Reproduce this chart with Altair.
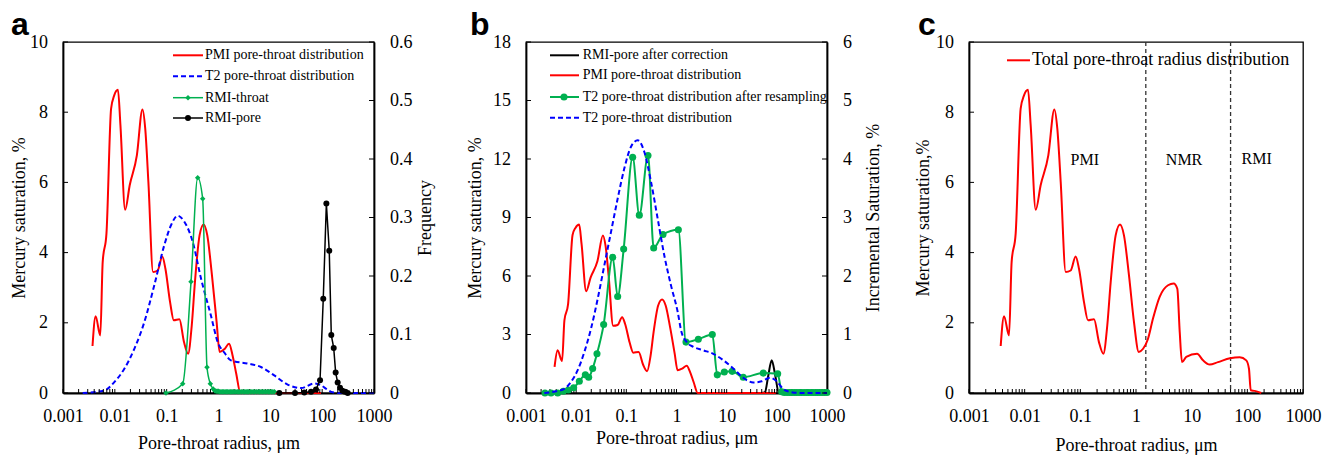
import altair as alt
import pandas as pd

# ---------------- data ----------------
# PMI pore-throat distribution (Mercury saturation, %)
pmi_r = [0.00371, 0.00426, 0.00524, 0.00583, 0.00689, 0.00847, 0.00973, 0.01148, 0.01282, 0.0158,
         0.01936, 0.0266, 0.0341, 0.0386, 0.0444, 0.0546, 0.067, 0.0824, 0.0946, 0.1164,
         0.1374, 0.176, 0.216, 0.259, 0.305, 0.351, 0.431, 0.516, 0.608, 0.748,
         0.92, 1.05, 1.3, 1.6, 1.85, 2.2, 2.65, 10.0, 95.0]
pmi_v = [1.34, 2.19, 1.64, 3.73, 4.54, 8.10, 8.48, 8.64, 7.63, 5.22,
         5.92, 6.77, 8.08, 7.53, 6.01, 3.45, 3.49, 3.89, 3.54, 2.59,
         2.07, 2.10, 1.45, 1.12, 1.93, 3.16, 4.49, 4.80, 4.49, 3.35,
         2.02, 1.17, 1.25, 1.40, 1.10, 0.55, 0.0, 0.0, 0.0]

# panel a: T2 pore-throat distribution (left units)
t2a_r = [0.0024, 0.00626, 0.00977, 0.01524, 0.02377, 0.03707, 0.0577, 0.0899, 0.1213, 0.1633,
         0.2193, 0.3177, 0.46, 0.716, 0.966, 1.3, 1.74, 3.66, 6.6, 11.9,
         21.6, 39.0, 70.6, 95.0, 125.0, 160.0, 250.0, 1000.0]
t2a_v = [0.0, 0.07, 0.31, 0.69, 1.26, 2.02, 3.07, 4.21, 4.78, 5.05,
         4.88, 4.31, 3.26, 2.20, 1.45, 1.15, 0.93, 0.84, 0.74, 0.50,
         0.24, 0.14, 0.27, 0.22, 0.10, 0.02, 0.0, 0.0]

# panel a: RMI-throat (Frequency)
rmi_throat_r = [0.097, 0.204, 0.295, 0.397, 0.495, 0.600, 0.695, 0.79,
                0.85, 0.9, 0.95, 1.0, 1.06, 1.12, 1.19, 1.26, 1.34, 1.42, 1.5,
                1.6, 1.7, 1.8, 1.9, 2.0, 2.15, 2.3, 2.45, 2.6, 2.8, 3.0,
                3.2, 3.4, 3.6, 3.8, 4.1, 4.4, 4.7, 5.0, 5.4, 5.8, 6.2, 6.6, 7.0,
                7.5, 8.0, 8.6, 9.2, 9.8, 10.5, 11.2, 12.0]
rmi_throat_f = [0.0, 0.016, 0.190, 0.368, 0.332, 0.044, 0.016, 0.007,
                0.004, 0.003, 0.003, 0.003, 0.002, 0.002, 0.002, 0.002, 0.002, 0.002, 0.002,
                0.002, 0.002, 0.002, 0.002, 0.002, 0.002, 0.002, 0.002, 0.002, 0.002, 0.002,
                0.002, 0.002, 0.002, 0.002, 0.002, 0.002, 0.002, 0.002, 0.002, 0.002, 0.002, 0.002, 0.002,
                0.002, 0.002, 0.002, 0.002, 0.002, 0.002, 0.002, 0.002]

# panel a: RMI-pore (Frequency)
rmi_pore_r = [14.9, 29.9, 45.3, 61.0, 76.0, 91.0, 105.0, 120.5, 137.0, 150.0,
              167.0, 182.0, 199.0, 221.0, 245.0, 276.0, 311.0]
rmi_pore_f = [0.0, 0.0, 0.001, 0.002, 0.006, 0.022, 0.161, 0.324, 0.243, 0.099,
              0.077, 0.035, 0.018, 0.009, 0.004, 0.002, 0.0]

# panel b: RMI-pore after correction (left units)
rmi_corr_r = [50.0, 58.0, 67.6, 79.0, 93.0, 108.0, 125.0]
rmi_corr_v = [0.0, 0.05, 0.9, 1.68, 0.9, 0.05, 0.0]

# panel b: T2 after resampling (Incremental Saturation, %)
t2res_r = [0.00239, 0.00315, 0.00428, 0.00554, 0.00698, 0.00891, 0.01156, 0.01523, 0.01775, 0.02133,
           0.0260, 0.0353, 0.0534, 0.0672, 0.0885, 0.1337, 0.1815, 0.2704, 0.3508, 0.538,
           1.089, 1.546, 2.72, 5.17, 6.5, 8.97, 12.9, 21.4, 53.7, 104.0,
           125.0, 140.0, 160.0, 180.0, 200.0, 225.0, 250.0, 280.0, 310.0, 350.0,
           390.0, 430.0, 480.0, 530.0, 590.0, 650.0, 720.0, 800.0, 890.0, 1000.0]
t2res_v = [0.0, 0.0, 0.0, 0.03, 0.05, 0.09, 0.20, 0.31, 0.27, 0.42,
           0.67, 1.17, 2.32, 1.65, 2.46, 4.03, 3.04, 4.06, 2.48, 2.71,
           2.79, 0.87, 0.92, 1.00, 0.31, 0.36, 0.37, 0.27, 0.34, 0.33,
           0.02, 0.01, 0.01, 0.01, 0.01, 0.01, 0.01, 0.01, 0.01, 0.01,
           0.01, 0.01, 0.01, 0.01, 0.01, 0.01, 0.01, 0.01, 0.01, 0.01]

# panel b: T2 pore-throat distribution (Incremental Saturation, %)
t2b_r = [0.00232, 0.00396, 0.00581, 0.00789, 0.01072, 0.01455, 0.01977, 0.02685, 0.0364, 0.0494,
         0.0671, 0.0912, 0.1239, 0.1683, 0.2286, 0.3105, 0.4217, 0.5715, 0.776, 1.054,
         1.25, 1.6, 2.163, 3.42, 5.41, 8.57, 13.55, 21.4, 33.96, 49.8,
         73.0, 99.3, 134.0, 183.0, 300.0, 1000.0]
t2b_v = [0.0, 0.03, 0.07, 0.19, 0.39, 0.70, 1.10, 1.61, 2.18, 2.75,
         3.32, 3.84, 4.21, 4.32, 4.12, 3.61, 2.98, 2.35, 1.84, 1.39,
         1.05, 0.87, 0.79, 0.73, 0.67, 0.56, 0.42, 0.26, 0.18, 0.20,
         0.26, 0.20, 0.07, 0.02, 0.0, 0.0]

# panel c: total pore-throat radius distribution
total_r = [0.00371, 0.00426, 0.00524, 0.00583, 0.00689, 0.00847, 0.00973, 0.01148, 0.01282, 0.0158,
           0.01936, 0.0266, 0.0341, 0.0386, 0.0444, 0.0546, 0.067, 0.0824, 0.0946, 0.1164,
           0.1374, 0.176, 0.216, 0.259, 0.305, 0.351, 0.431, 0.516, 0.608, 0.748,
           0.92, 1.12, 1.34, 1.64, 2.02, 2.66, 3.76, 4.75, 5.52, 6.10,
           6.70, 8.0, 12.5, 16.0, 21.1, 29.7, 48.9, 73.0, 95.7, 107.0,
           115.0, 135.0, 178.0]
total_v = [1.34, 2.19, 1.64, 3.73, 4.54, 8.10, 8.48, 8.64, 7.63, 5.22,
           5.92, 6.77, 8.08, 7.53, 6.01, 3.45, 3.49, 3.89, 3.54, 2.59,
           2.07, 2.10, 1.45, 1.12, 1.93, 3.16, 4.49, 4.80, 4.49, 3.35,
           2.02, 1.17, 1.26, 1.54, 2.12, 2.74, 3.07, 3.12, 2.97, 1.74,
           0.88, 1.03, 1.12, 0.93, 0.81, 0.88, 0.99, 1.02, 0.93, 0.69,
           0.08, 0.06, 0.0]
boundaries = [1.5, 50.0]
region_labels = ["PMI", "NMR", "RMI"]
region_x = [0.12, 7.3, 147.0]
region_y = [6.63, 6.63, 6.67]

# axis tick values
x_labels = [0.001, 0.01, 0.1, 1, 10, 100, 1000]
x_minor = [m * 10.0 ** k for k in range(-3, 3) for m in range(1, 10)] + [1000.0]
ya_left = [0, 2, 4, 6, 8, 10]
ya_right = [0, 0.1, 0.2, 0.3, 0.4, 0.5, 0.6]
yb_left = [0, 3, 6, 9, 12, 15, 18]
yb_right = [0, 1, 2, 3, 4, 5, 6]
yc_left = [0, 2, 4, 6, 8, 10]

# ---------------- style ----------------
FONT = "Liberation Serif"
RED = "#ff0000"
BLUE = "#0000ff"
GREEN = "#00b050"
BLACK = "#000000"
H = 351
W_A, W_B, W_C = 311, 301, 334
LABEL_EXPR = "'' + datum.value"


def df(**cols):
    return pd.DataFrame(cols)


def x_axis(tpad):
    return alt.Axis(title="Pore-throat radius, μm", values=x_labels, labelExpr=LABEL_EXPR, ticks=False,
                    tickSize=0, labelPadding=14, titlePadding=tpad, labelFlush=False,
                    labelOverlap=False, grid=False, domainWidth=1.8, domainColor=BLACK)


def y_axis(title, values, tpad, orient="left"):
    kw = dict(title=title, values=values, orient=orient, labelExpr=LABEL_EXPR, ticks=False, tickSize=0,
              labelPadding=15.5, titlePadding=tpad, labelFlush=False, labelOverlap=False,
              grid=False, domainWidth=1.8, domainColor=BLACK)
    if orient == "right":
        kw.update(titleAngle=270, titleBaseline="top")
    return alt.Axis(**kw)


def series(r, v, xs, xax, ys, yax):
    return alt.Chart(df(r=r, v=v)).encode(
        x=alt.X("r:Q", scale=xs, axis=xax), y=alt.Y("v:Q", scale=ys, axis=yax))


def x_ticks(xs, xax):
    return alt.Chart(df(t=x_minor)).mark_rule(color=BLACK, strokeWidth=1).encode(
        x=alt.X("t:Q", scale=xs, axis=xax), y=alt.value(H), y2=alt.value(H - 4))


def y_ticks(vals, ys, yax, right=False, width=0):
    x1, x2 = (width - 5, width) if right else (0, 5)
    return alt.Chart(df(v=vals)).mark_rule(color=BLACK, strokeWidth=1).encode(
        y=alt.Y("v:Q", scale=ys, axis=yax), x=alt.value(x1), x2=alt.value(x2))


def leg_line(x1, x2, y, color, width, dash=None):
    kw = dict(color=color, strokeWidth=width)
    if dash:
        kw["strokeDash"] = dash
    return alt.Chart(df(k=[0])).mark_rule(**kw).encode(
        x=alt.value(x1), x2=alt.value(x2), y=alt.value(y))


def leg_point(x, y, color, shape, size):
    return alt.Chart(df(k=[0])).mark_point(filled=True, shape=shape, size=size, color=color,
                                            opacity=1).encode(x=alt.value(x), y=alt.value(y))


def leg_text(x, y, label, size):
    return alt.Chart(df(label=[label])).mark_text(
        align="left", baseline="middle", font=FONT, fontSize=size, color=BLACK).encode(
        x=alt.value(x), y=alt.value(y), text="label:N")


def panel_label(t, x):
    return alt.Chart(df(label=[t])).mark_text(
        align="left", baseline="alphabetic", font="Liberation Sans", fontWeight="bold",
        fontSize=32, color=BLACK).encode(x=alt.value(x), y=alt.value(-7), text="label:N")


# ---------------- panel a ----------------
xa = alt.Scale(type="log", domain=[0.001, 1000], nice=False)
xax_a = x_axis(9.8)
yla = alt.Scale(domain=[0, 10], nice=False)
yra = alt.Scale(domain=[0, 0.6], nice=False)
yax_la = y_axis("Mercury saturation, %", ya_left, 1.1)
yax_ra = y_axis("Frequency", ya_right, 4.7, orient="right")

left_a = alt.layer(
    series(pmi_r, pmi_v, xa, xax_a, yla, yax_la).mark_line(color=RED, strokeWidth=2, interpolate="monotone"),
    series(t2a_r, t2a_v, xa, xax_a, yla, yax_la).mark_line(color=BLUE, strokeWidth=2, strokeDash=[5, 3], interpolate="monotone"),
    x_ticks(xa, xax_a),
    y_ticks(ya_left, yla, yax_la),
    leg_line(110, 140, 13.3, RED, 2),
    leg_text(142, 13.3, "PMI pore-throat distribution", 14),
    leg_line(110, 140, 34.3, BLUE, 2, [5, 3]),
    leg_text(142, 34.3, "T2 pore-throat distribution", 14),
    leg_line(110, 140, 55.7, GREEN, 1.5),
    leg_point(125, 55.7, GREEN, "diamond", 30),
    leg_text(142, 55.7, "RMI-throat", 14),
    leg_line(110, 140, 76, BLACK, 1.5),
    leg_point(125, 76, BLACK, "circle", 36),
    leg_text(142, 76, "RMI-pore", 14),
    panel_label("a", -52),
)
right_a = alt.layer(
    series(rmi_throat_r, rmi_throat_f, xa, xax_a, yra, yax_ra).mark_line(color=GREEN, strokeWidth=1.5, interpolate="monotone"),
    series(rmi_throat_r, rmi_throat_f, xa, xax_a, yra, yax_ra).mark_point(color=GREEN, filled=True, shape="diamond", size=30, opacity=1),
    series(rmi_pore_r, rmi_pore_f, xa, xax_a, yra, yax_ra).mark_line(color=BLACK, strokeWidth=1.5),
    series(rmi_pore_r, rmi_pore_f, xa, xax_a, yra, yax_ra).mark_point(color=BLACK, filled=True, size=36, opacity=1),
    y_ticks(ya_right, yra, yax_ra, right=True, width=W_A),
)
panel_a = alt.layer(left_a, right_a).resolve_scale(y="independent").properties(width=W_A, height=H)

# ---------------- panel b ----------------
xb = alt.Scale(type="log", domain=[0.001, 1000], nice=False)
xax_b = x_axis(4.7)
ylb = alt.Scale(domain=[0, 18], nice=False)
yrb = alt.Scale(domain=[0, 6], nice=False)
yax_lb = y_axis("Mercury saturation, %", yb_left, 8.5)
yax_rb = y_axis("Incremental Saturation, %", yb_right, 12.9, orient="right")

left_b = alt.layer(
    series(rmi_corr_r, rmi_corr_v, xb, xax_b, ylb, yax_lb).mark_line(color=BLACK, strokeWidth=2, interpolate="monotone"),
    series(pmi_r, pmi_v, xb, xax_b, ylb, yax_lb).mark_line(color=RED, strokeWidth=2, interpolate="monotone"),
    x_ticks(xb, xax_b),
    y_ticks(yb_left, ylb, yax_lb),
    leg_line(24, 53, 13.3, BLACK, 2),
    leg_text(56.7, 13.3, "RMI-pore after correction", 14),
    leg_line(24, 53, 33.3, RED, 2),
    leg_text(56.7, 33.3, "PMI pore-throat distribution", 14),
    leg_line(24, 53, 55, GREEN, 2),
    leg_point(38, 55, GREEN, "circle", 50),
    leg_text(56.7, 55, "T2 pore-throat distribution after resampling", 14),
    leg_line(24, 53, 75.7, BLUE, 2, [5, 3]),
    leg_text(56.7, 75.7, "T2 pore-throat distribution", 14),
    panel_label("b", -56),
)
right_b = alt.layer(
    series(t2res_r, t2res_v, xb, xax_b, yrb, yax_rb).mark_line(color=GREEN, strokeWidth=2, interpolate="monotone"),
    series(t2res_r, t2res_v, xb, xax_b, yrb, yax_rb).mark_point(color=GREEN, filled=True, size=50, opacity=1),
    series(t2b_r, t2b_v, xb, xax_b, yrb, yax_rb).mark_line(color=BLUE, strokeWidth=2, strokeDash=[5, 3], interpolate="monotone"),
    y_ticks(yb_right, yrb, yax_rb, right=True, width=W_B),
)
panel_b = alt.layer(left_b, right_b).resolve_scale(y="independent").properties(width=W_B, height=H)

# ---------------- panel c ----------------
xc = alt.Scale(type="log", domain=[0.001, 1000], nice=False)
xax_c = x_axis(11.7)
ylc = alt.Scale(domain=[0, 10], nice=False)
yax_lc = y_axis("Mercury saturation,%", yc_left, 3.5)

panel_c = alt.layer(
    alt.Chart(df(b=boundaries)).mark_rule(color="#333333", strokeWidth=1.3, strokeDash=[4, 3]).encode(
        x=alt.X("b:Q", scale=xc, axis=xax_c)),
    series(total_r, total_v, xc, xax_c, ylc, yax_lc).mark_line(color=RED, strokeWidth=2, interpolate="monotone"),
    alt.Chart(df(r=region_x, v=region_y, label=region_labels)).mark_text(
        font=FONT, fontSize=16, color=BLACK, align="center", baseline="middle").encode(
        x=alt.X("r:Q", scale=xc, axis=xax_c), y=alt.Y("v:Q", scale=ylc, axis=yax_lc), text="label:N"),
    x_ticks(xc, xax_c),
    y_ticks(yc_left, ylc, yax_lc),
    leg_line(38, 61, 18.3, RED, 2),
    leg_text(63, 18.3, "Total pore-throat radius distribution", 18),
    panel_label("c", -51),
).properties(width=W_C, height=H)

chart = alt.hconcat(panel_a, panel_b, panel_c, spacing=29).properties(
    padding={"left": 1, "top": 0, "right": 2, "bottom": 2}, background="white"
).configure_view(stroke=BLACK, strokeWidth=1.3).configure_axis(
    labelFont=FONT, titleFont=FONT, labelFontSize=18, titleFontSize=18,
    labelColor=BLACK, titleColor=BLACK, titleFontWeight="normal"
)

chart.save("out.html", embed_options={"renderer": "svg", "actions": False})
